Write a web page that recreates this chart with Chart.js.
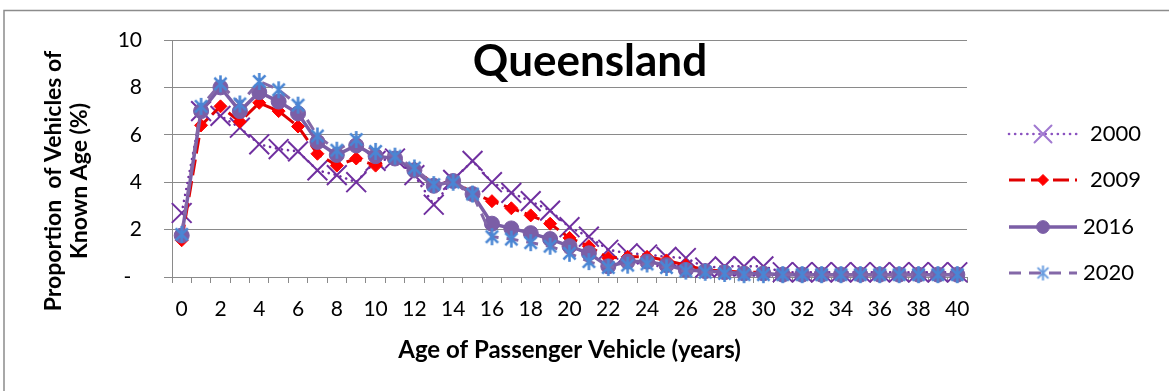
<!DOCTYPE html>
<html>
<head>
<meta charset="utf-8">
<script src="https://cdn.jsdelivr.net/npm/chart.js@4.4.1/dist/chart.umd.min.js"></script>
<style>
  html, body { margin: 0; padding: 0; background: #ffffff; }
  canvas { display: block; }
</style>
</head>
<body>
<canvas id="chart" width="1169" height="391"></canvas>
<script>
// Age of vehicle (years)
const ages = [0, 1, 2, 3, 4, 5, 6, 7, 8, 9, 10, 11, 12, 13, 14, 15, 16, 17, 18, 19, 20,
              21, 22, 23, 24, 25, 26, 27, 28, 29, 30, 31, 32, 33, 34, 35, 36, 37, 38, 39, 40];

// Share of vehicles of known age (%) for each census year
const share2000 = [2.7, 7.0, 6.8, 6.3, 5.6, 5.4, 5.3, 4.5, 4.3, 4.0, 4.9,
                   5.0, 4.3, 3.05, 4.1, 4.9, 4.0, 3.55, 3.2, 2.8, 2.1,
                   1.7, 1.15, 1.0, 0.95, 0.85, 0.8, 0.4, 0.45, 0.45, 0.45,
                   0.2, 0.2, 0.2, 0.2, 0.2, 0.2, 0.2, 0.2, 0.2, 0.2];
const share2009 = [1.55, 6.4, 7.2, 6.55, 7.35, 7.0, 6.35, 5.2, 4.7, 5.0, 4.7,
                   5.05, 4.6, 3.9, 4.05, 3.55, 3.2, 2.9, 2.6, 2.25, 1.65,
                   1.3, 0.8, 0.85, 0.85, 0.7, 0.5, 0.3, 0.25, 0.2, 0.2,
                   0.15, 0.1, 0.1, 0.1, 0.1, 0.1, 0.1, 0.1, 0.1, 0.1];
const share2016 = [1.75, 7.0, 8.0, 7.0, 7.8, 7.4, 6.9, 5.7, 5.15, 5.55, 5.1,
                   5.0, 4.5, 3.85, 4.05, 3.5, 2.25, 2.05, 1.85, 1.6, 1.3,
                   1.0, 0.45, 0.65, 0.65, 0.5, 0.3, 0.25, 0.2, 0.15, 0.15,
                   0.1, 0.1, 0.1, 0.1, 0.1, 0.1, 0.1, 0.1, 0.1, 0.1];
const share2020 = [1.8, 7.2, 8.15, 7.3, 8.25, 7.9, 7.25, 5.95, 5.35, 5.8, 5.3,
                   5.1, 4.6, 3.9, 4.0, 3.5, 1.7, 1.6, 1.45, 1.3, 1.0,
                   0.65, 0.4, 0.5, 0.55, 0.4, 0.25, 0.2, 0.15, 0.1, 0.1,
                   0.1, 0.1, 0.1, 0.1, 0.1, 0.1, 0.1, 0.1, 0.1, 0.1];

const seriesNames = ['2000', '2009', '2016', '2020'];
const yTickLabels = { 0: '-  ', 2: '2', 4: '4', 6: '6', 8: '8', 10: '10' };

const chartTitle = 'Queensland';
const xAxisTitle = 'Age of Passenger Vehicle (years)';
const yAxisTitle = ['Proportion  of Vehicles of', 'Known Age (%)'];

const FONT = 'Lato, "Open Sans", sans-serif';
const GRID = '#8a8a8a';

// Six-armed asterisk marker
function asteriskMarker(size, color, lw) {
  const c = document.createElement('canvas');
  c.width = size; c.height = size;
  const g = c.getContext('2d');
  const m = size / 2, r = size / 2 - 1, d = r * 0.72;
  g.strokeStyle = color;
  g.lineWidth = lw;
  g.beginPath();
  g.moveTo(m, m - r); g.lineTo(m, m + r);
  g.moveTo(m - d, m - d); g.lineTo(m + d, m + d);
  g.moveTo(m + d, m - d); g.lineTo(m - d, m + d);
  g.stroke();
  return c;
}
const star2020 = asteriskMarker(19, '#4a86d4', 2.6);
const star2020Key = asteriskMarker(17, '#6a9de0', 2.0);

const datasets = [
  {
    label: seriesNames[0], data: share2000, order: 4,
    borderColor: '#7030a0', borderWidth: 2.6, borderDash: [0.1, 6], borderCapStyle: 'round',
    pointStyle: 'crossRot', pointRadius: 14, pointBorderWidth: 2,
    pointBorderColor: '#7030a0', pointBackgroundColor: '#7030a0'
  },
  {
    label: seriesNames[1], data: share2009, order: 3,
    borderColor: '#e00000', borderWidth: 3, borderDash: [16, 6],
    pointStyle: 'rectRot', pointRadius: 6.5, pointBorderWidth: 1,
    pointBorderColor: '#ff0000', pointBackgroundColor: '#ff0000'
  },
  {
    label: seriesNames[2], data: share2016, order: 2,
    borderColor: '#7b5ea6', borderWidth: 3.5,
    pointStyle: 'circle', pointRadius: 7.5, pointBorderWidth: 1,
    pointBorderColor: '#7b5ea6', pointBackgroundColor: '#7b5ea6'
  },
  {
    label: seriesNames[3], data: share2020, order: 1,
    borderColor: '#8468a8', borderWidth: 3, borderDash: [12, 8],
    pointStyle: star2020, pointRadius: 9, pointBorderWidth: 0,
    pointBorderColor: '#4a86d4', pointBackgroundColor: '#4a86d4'
  }
];

// Frame, chart title, vertical axis title and series key
const decorations = {
  id: 'decorations',
  beforeDraw(chart) {
    const ctx = chart.ctx;
    ctx.save();
    ctx.fillStyle = '#ffffff';
    ctx.fillRect(0, 0, chart.width, chart.height);
    ctx.strokeStyle = '#8c8c8c';
    ctx.lineWidth = 1.5;
    ctx.strokeRect(4, 10.5, chart.width + 50, chart.height + 50);
    ctx.restore();
  },
  afterDraw(chart) {
    const ctx = chart.ctx;
    ctx.save();
    ctx.fillStyle = '#000000';

    ctx.font = 'bold 44px ' + FONT;
    ctx.textAlign = 'center';
    ctx.textBaseline = 'alphabetic';
    ctx.fillText(chartTitle, 590, 76);

    ctx.font = 'bold 23px ' + FONT;
    ctx.textBaseline = 'middle';
    ctx.translate(54, 181);
    ctx.rotate(-Math.PI / 2);
    yAxisTitle.forEach((line, i) => ctx.fillText(line, 0, i * 26));
    ctx.restore();

    const rows = [134, 180, 227, 273];
    const textX = [1090, 1090, 1083, 1083];
    chart.data.datasets.forEach((ds, i) => {
      const y = rows[i];
      ctx.save();
      ctx.strokeStyle = i === 0 ? '#8a52c0' : ds.borderColor;
      ctx.lineWidth = ds.borderWidth;
      ctx.lineCap = ds.borderCapStyle || 'butt';
      ctx.setLineDash(ds.borderDash || []);
      ctx.beginPath();
      ctx.moveTo(1009, y);
      ctx.lineTo(1077, y);
      ctx.stroke();
      ctx.setLineDash([]);
      ctx.fillStyle = ds.pointBackgroundColor;
      ctx.strokeStyle = i === 0 ? '#a078d0' : ds.pointBorderColor;
      ctx.lineWidth = ds.pointBorderWidth;
      Chart.helpers.drawPoint(ctx, {
        pointStyle: i === 3 ? star2020Key : ds.pointStyle,
        radius: ds.pointStyle === 'crossRot' ? 12 : ds.pointRadius * 0.85,
        borderWidth: ds.pointBorderWidth,
        rotation: 0
      }, 1043, y);
      ctx.fillStyle = '#000000';
      ctx.font = '22px ' + FONT;
      ctx.textAlign = 'left';
      ctx.textBaseline = 'middle';
      ctx.fillText(ds.label, textX[i], y);
      ctx.restore();
    });
  }
};

new Chart(document.getElementById('chart'), {
  type: 'line',
  data: { labels: ages, datasets },
  plugins: [decorations],
  options: {
    responsive: false,
    animation: false,
    devicePixelRatio: 1,
    layout: { padding: { left: 0, right: 202, top: 40, bottom: 0 } },
    datasets: { line: { clip: false, tension: 0 } },
    plugins: { legend: { display: false }, tooltip: { enabled: false }, title: { display: false } },
    scales: {
      x: {
        type: 'category',
        offset: true,
        afterFit(scale) { scale.height = 114; },
        grid: { offset: true, drawOnChartArea: false, drawTicks: true, tickLength: 6, color: GRID },
        border: { display: true, color: GRID, width: 1 },
        ticks: {
          autoSkip: false, maxRotation: 0, minRotation: 0, padding: 14,
          color: '#000000', font: { family: FONT, size: 21 },
          callback(value, index) { return index % 2 === 0 ? String(ages[index]) : ''; }
        },
        title: {
          display: true, text: xAxisTitle, color: '#000000',
          font: { family: FONT, size: 24, weight: 'bold' },
          padding: { top: 0, bottom: 26 }
        }
      },
      y: {
        min: 0, max: 10,
        afterFit(scale) { scale.width = 172; },
        grid: { color: GRID, drawTicks: true, tickLength: 8 },
        border: { display: true, color: GRID, width: 1 },
        ticks: {
          stepSize: 2, padding: 22, color: '#000000',
          font: { family: FONT, size: 21 },
          callback(value) { return yTickLabels[value]; }
        }
      }
    }
  }
});
</script>
</body>
</html>
